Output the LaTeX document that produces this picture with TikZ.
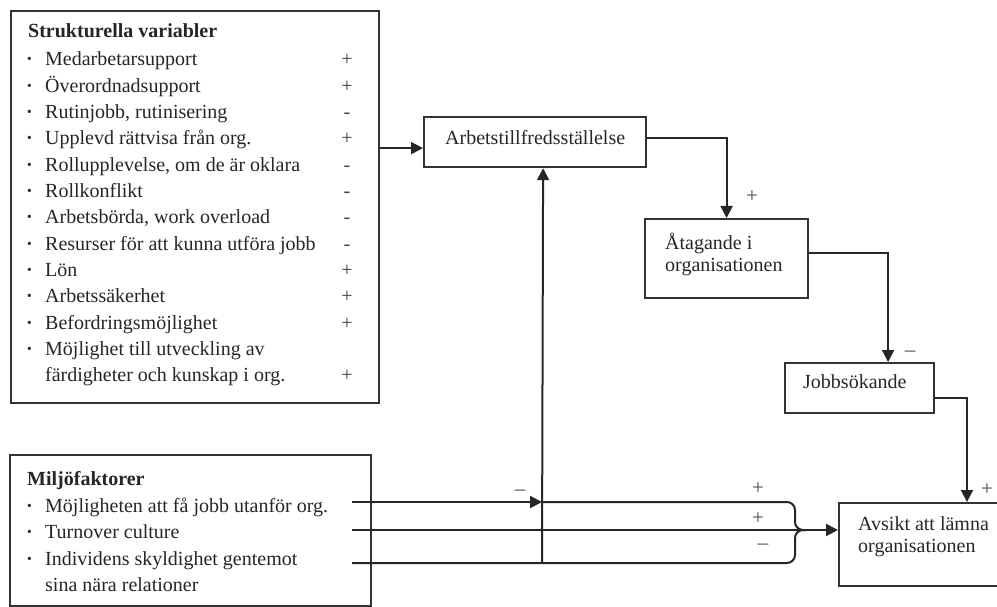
\documentclass[tikz,border=0pt]{standalone}
\usepackage{fontspec}
\setmainfont{Liberation Serif}
\usetikzlibrary{arrows.meta}
\begin{document}
\begin{tikzpicture}[x=1pt,y=-1pt,
  box/.style={draw=black!80, line width=2.2pt, inner sep=0pt, anchor=north west},
  conn/.style={draw=black!85, line width=2pt},
  arr/.style={conn, -{Triangle[length=12pt,width=12pt]}},
  txt/.style={anchor=base west, inner sep=0pt, text=black!85, font=\fontsize{20}{26}\selectfont},
  ttl/.style={txt, font=\fontsize{20}{26}\selectfont\bfseries},
  dot/.style={txt, font=\fontsize{20}{26}\selectfont\bfseries},
  sgn/.style={anchor=base, inner sep=0pt, text=black!75, font=\fontsize{20}{26}\selectfont},
  lbl/.style={anchor=base, inner sep=0pt, text=black!70, font=\fontsize{21}{26}\selectfont},
  btxt/.style={align=left, inner sep=0pt, text=black!85, font=\fontsize{20}{22}\selectfont}
]
\useasboundingbox (0,0) rectangle (997,607);
\clip (0,0) rectangle (997,607);
\fill[white] (0,0) rectangle (997,607);

% boxes
\node[box, minimum width=368pt, minimum height=392pt] (struct) at (10,10) {};
\node[box, minimum width=361pt, minimum height=151pt] (milj) at (9,454) {};
\node[box, minimum width=222pt, minimum height=50pt] (arb) at (423,116) {};
\node[box, minimum width=163pt, minimum height=79pt] (ata) at (644,218) {};
\node[box, minimum width=149pt, minimum height=50pt] (job) at (784,362) {};
\node[box, minimum width=180pt, minimum height=83pt] (avs) at (838,502) {};

% box texts
\node[txt] (arbt) at (445,145) {Arbetstillfredsställelse};
\node[btxt, anchor=north west] (atat) at (665,233) {Åtagande i\\organisationen};
\node[txt] (jobt) at (803,388) {Jobbsökande};
\node[btxt, anchor=north west] (avst) at (858,516) {Avsikt att lämna\\organisationen};

% structural variables
\node[ttl] (st0) at (28,38) {Strukturella variabler};
\foreach \t/\s [count=\i] in {
  Medarbetarsupport/+,
  Överordnadsupport/+,
  {Rutinjobb, rutinisering}/-,
  Upplevd rättvisa från org./+,
  {Rollupplevelse, om de är oklara}/-,
  Rollkonflikt/-,
  {Arbetsbörda, work overload}/-,
  Resurser för att kunna utföra jobb/-,
  Lön/+,
  Arbetssäkerhet/+,
  Befordringsmöjlighet/+}{
  \node[dot] (sb\i) at (26,{66+26.3*(\i-1)}) {·};
  \node[txt] (st\i) at (45,{66+26.3*(\i-1)}) {\t};
  \node[sgn] (ss\i) at (347,{66+26.3*(\i-1)}) {\s};
}
\node[dot] (sb12) at (26,355.3) {·};
\node[txt] (st12) at (45,355.3) {Möjlighet till utveckling av};
\node[txt] (st13) at (45,381.6) {färdigheter och kunskap i org.};
\node[sgn] (ss13) at (347,381.6) {+};

% environmental factors
\node[ttl] (mt0) at (27,485) {Miljöfaktorer};
\node[dot] (mb1) at (26,512) {·};
\node[txt] (mt1) at (45,512) {Möjligheten att få jobb utanför org.};
\node[dot] (mb2) at (26,538.5) {·};
\node[txt] (mt2) at (45,538.5) {Turnover culture};
\node[dot] (mb3) at (26,565) {·};
\node[txt] (mt3) at (45,565) {Individens skyldighet gentemot};
\node[txt] (mt4) at (45,591.5) {sina nära relationer};

% connectors
\coordinate (ain) at ([yshift=-6pt]arb.west);
\draw[arr] (struct.east |- ain) -- (ain);

\coordinate (aout) at ([yshift=4pt]arb.east);
\draw[arr] (aout) -| (ata.north);

\coordinate (tout) at ([yshift=5.5pt]ata.east);
\draw[arr] (tout) -| ([xshift=28.5pt]job.north);

\coordinate (jout) at ([yshift=-10pt]job.east);
\draw[arr] (jout) -| ([xshift=129pt]avs.north west);

\coordinate (aup) at ([xshift=8pt]arb.south);
\coordinate (vb) at (542,563);
\draw[arr] (vb) -- (aup);

\coordinate (m1) at (352,502);
\coordinate (m2) at (352,530);
\coordinate (m3) at (352,563);
\draw[arr] (m1) -- (m1 -| vb);
\draw[conn, rounded corners=8pt] (m1 -| vb) -- (795,502) -- (795,530) -- (806,530);
\draw[conn, rounded corners=8pt] (m3) -- (795,563) -- (795,530) -- (806,530);
\draw[arr] (m2) -- (avs.west |- m2);

% connector labels
\node[lbl] (l1) at (752,203) {+};
\node[lbl] (l2) at (910,356) {–};
\node[lbl] (l3) at (987,495) {+};
\node[lbl] (l4) at (520,495) {–};
\node[lbl] (l5) at (758,494) {+};
\node[lbl] (l6) at (758,524) {+};
\node[lbl] (l7) at (763,549) {–};
\end{tikzpicture}
\end{document}
